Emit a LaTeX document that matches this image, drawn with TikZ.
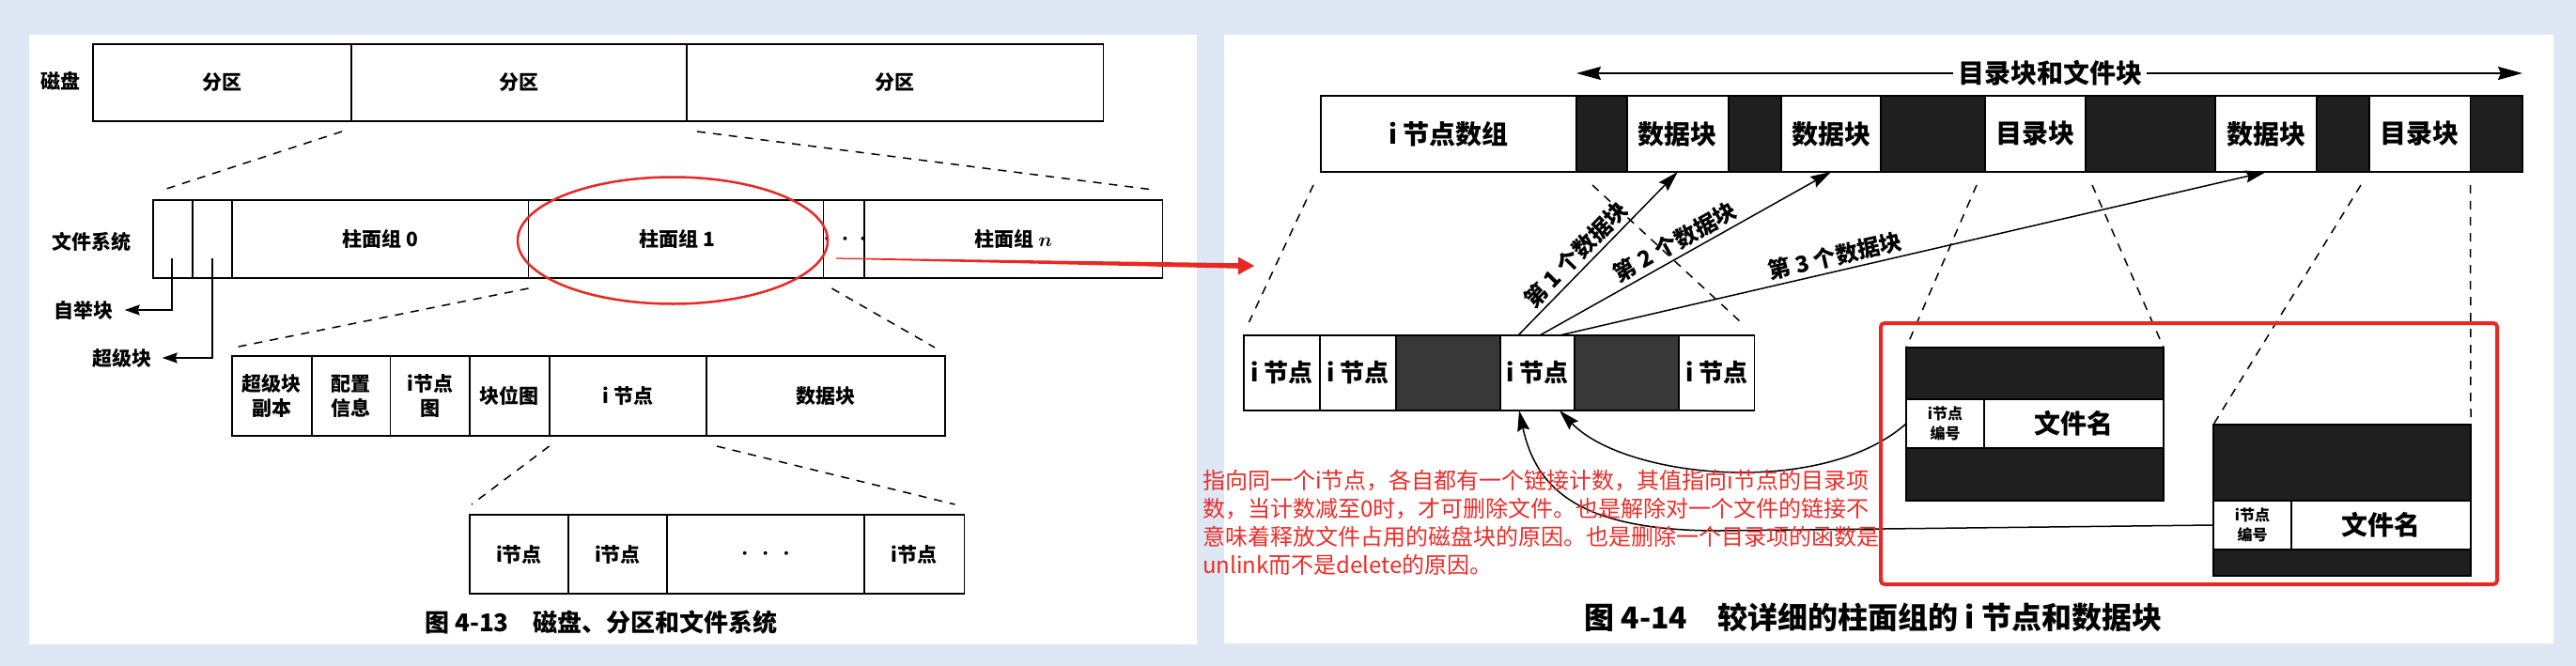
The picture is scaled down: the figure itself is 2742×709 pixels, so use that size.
\documentclass[tikz,border=0pt]{standalone}
\usepackage{fontspec}
\newfontfamily\cjk{Noto Sans CJK SC}
\usetikzlibrary{arrows.meta,calc,shapes.geometric}
\definecolor{bgc}{RGB}{221,232,244}
\definecolor{redc}{RGB}{232,40,34}
\definecolor{redt}{RGB}{236,44,40}
\newcommand{\cellnode}[7][]{%
  \pgfmathsetmacro{\myW}{#5-#3}%
  \pgfmathsetmacro{\myH}{#6-#4}%
  \node[cellbox,#1,minimum width=\myW pt,minimum height=\myH pt] (#2) at ({(#3+#5)/2},{(#4+#6)/2}) {#7};}
\begin{document}
\begin{tikzpicture}[x=1pt,y=-1pt,
  cellbox/.style={draw=black,line width=1.8pt,fill=white,inner sep=0pt,outer sep=0pt,align=center,
    font=\cjk\bfseries\fontsize{21}{26}\selectfont},
  bigcell/.style={font=\cjk\bfseries\fontsize{28}{32}\selectfont},
  midcell/.style={font=\cjk\bfseries\fontsize{26}{30}\selectfont},
  smallcell/.style={font=\cjk\bfseries\fontsize{16}{21}\selectfont},
  darkbox/.style={fill=black!88},
  darkmid/.style={fill=black!78},
  lbl/.style={inner sep=2pt,font=\cjk\bfseries\fontsize{21}{25}\selectfont},
  albl/.style={inner sep=4pt,font=\cjk\bfseries\fontsize{24}{28}\selectfont},
  dashline/.style={dash pattern=on 9pt off 8pt,line width=1.5pt},
  arrs/.style={line width=1.6pt,-{Stealth[length=16pt,width=11pt,inset=2pt]}},
  arrm/.style={line width=1.5pt,-{Stealth[length=22pt,width=13pt,inset=3pt]}},
  arrt/.style={line width=1.8pt,-{Stealth[length=26pt,width=14pt,inset=3pt]}}]
\useasboundingbox (0,0) rectangle (2742,709);
\fill[bgc] (0,0) rectangle (2742,709);
\fill[white] (31,37) rectangle (1274,686);
\fill[white] (1303,37) rectangle (2718,685);

% ---------- left panel ----------
\cellnode{d1}{99}{47}{374}{129}{分区}
\cellnode{d2}{374}{47}{731}{129}{分区}
\cellnode{d3}{731}{47}{1174.5}{129}{分区}
\node[lbl] (disk) at (64,86) {磁盘};

\cellnode{f1}{163}{213}{205}{296}{}
\cellnode{f2}{205}{213}{247}{296}{}
\cellnode{f3}{247}{213}{562.5}{296}{柱面组 0}
\cellnode{f4}{562.5}{213}{879}{296}{柱面组 1}
\cellnode{f5}{879}{213}{920}{296}{{\fontsize{28}{28}\selectfont\boldmath$\cdot\,\cdot\,\cdot$}}
\cellnode{f6}{920}{213}{1237.5}{296}{柱面组 {\boldmath$n$}}
\node[lbl] (fsl) at (97,257) {文件系统};

\node[lbl] (boot) at (89,330) {自举块};
\node[lbl] (sup) at (130,381) {超级块};
\draw[arrs] ($(f1.center)+(-1,20)$) |- ($(boot.east)+(10,0)$);
\draw[arrs] ($(f2.center)+(0,20)$) |- ($(sup.east)+(9,0)$);

\cellnode{c1}{247}{379}{331.7}{464}{超级块\\副本}
\cellnode{c2}{331.7}{379}{415.4}{464}{配置\\信息}
\cellnode{c3}{415.4}{379}{500}{464}{i节点\\图}
\cellnode{c4}{500}{379}{584.6}{464}{块位图}
\cellnode{c5}{584.6}{379}{752}{464}{i 节点}
\cellnode{c6}{752}{379}{1006}{464}{数据块}

\cellnode{n1}{500}{548}{605}{632}{i节点}
\cellnode{n2}{605}{548}{710}{632}{i节点}
\cellnode{n3}{710}{548}{920}{632}{{\fontsize{28}{28}\selectfont\boldmath$\cdot\;\cdot\;\cdot$}}
\cellnode{n4}{920}{548}{1026.5}{632}{i节点}

\node[font=\cjk\bfseries\fontsize{26}{30}\selectfont] (cap1) at (640,663) {图 4-13\quad 磁盘、分区和文件系统};

\draw[dashline] ($(d2.south west)+(-10,11)$) -- ($(f1.north west)+(11,-11)$);
\draw[dashline] ($(d2.south east)+(11,11)$) -- ($(f6.north east)+(-10,-11)$);
\draw[dashline] ($(f4.south west)+(0,11)$) -- ($(c1.north west)+(2,-9)$);
\draw[dashline] ($(f5.south west)+(9,11)$) -- ($(c6.north east)+(-11,-9)$);
\draw[dashline] ($(c5.south west)+(0,11)$) -- ($(n1.north west)+(2,-11)$);
\draw[dashline] ($(c6.south west)+(11,11)$) -- ($(n4.north east)+(-10,-11)$);

\node[ellipse,draw=redc,line width=2.5pt,minimum width=330pt,minimum height=135pt,inner sep=0pt] (ell) at (716,256) {};

% ---------- right panel ----------
\cellnode[bigcell]{t1}{1406}{102}{1678}{183}{i 节点数组}
\cellnode[darkbox]{k1}{1678}{102}{1731.6}{183}{}
\cellnode[bigcell]{t2}{1731.6}{102}{1840}{183}{数据块}
\cellnode[darkbox]{k2}{1840}{102}{1896}{183}{}
\cellnode[bigcell]{t3}{1896}{102}{2002}{183}{数据块}
\cellnode[darkbox]{k3}{2002}{102}{2112.6}{183}{}
\cellnode[bigcell]{t4}{2112.6}{102}{2220}{183}{目录块}
\cellnode[darkbox]{k4}{2220}{102}{2358}{183}{}
\cellnode[bigcell]{t5}{2358}{102}{2466}{183}{数据块}
\cellnode[darkbox]{k5}{2466}{102}{2522}{183}{}
\cellnode[bigcell]{t6}{2522}{102}{2629.5}{183}{目录块}
\cellnode[darkbox]{k6}{2629.5}{102}{2685}{183}{}

\node[font=\cjk\bfseries\fontsize{28}{32}\selectfont,inner sep=5pt] (dfl) at (2182,78) {目录块和文件块};
\draw[arrt] (dfl.west) -- ($(t1.north east)+(0,-24)$);
\draw[arrt] (dfl.east) -- ($(k6.north east)+(0,-24)$);

\cellnode[midcell]{m1}{1324}{357}{1405}{437}{i 节点}
\cellnode[midcell]{m2}{1405}{357}{1486}{437}{i 节点}
\cellnode[darkmid]{m3}{1486}{357}{1597}{437}{}
\cellnode[midcell]{m4}{1597}{357}{1676}{437}{i 节点}
\cellnode[darkmid]{m5}{1676}{357}{1787}{437}{}
\cellnode[midcell]{m6}{1787}{357}{1867.5}{437}{i 节点}

\draw[dashline] ($(t1.south west)+(-8,14)$) -- ($(m1.north west)+(5.5,-14)$);
\draw[dashline] ($(k1.south west)+(17,14)$) -- ($(m6.north east)+(-14.5,-14)$);

\draw[arrm] ($(m4.north west)+(19,0)$) -- node[pos=.43,above,sloped,albl] {第 1 个数据块} (t2.south);
\draw[arrm] ($(m4.north west)+(42,0)$) -- node[pos=.49,above,sloped,albl] {第 2 个数据块} (t3.south);
\draw[arrm] ($(m4.north west)+(63,0)$) -- node[pos=.395,above,sloped,albl] {第 3 个数据块} (t5.south);

\cellnode[darkbox]{e1t}{2029}{370}{2303}{425}{}
\cellnode[smallcell]{e1a}{2029}{425}{2112}{477}{i节点\\编号}
\cellnode[bigcell]{e1b}{2112}{425}{2303}{477}{文件名}
\cellnode[darkbox]{e1d}{2029}{477}{2303}{533}{}
\cellnode[darkbox]{e2t}{2356}{452}{2630}{533}{}
\cellnode[smallcell]{e2a}{2356}{533}{2439}{585}{i节点\\编号}
\cellnode[bigcell]{e2b}{2439}{533}{2630}{585}{文件名}
\cellnode[darkbox]{e2d}{2356}{585}{2630}{613}{}

\draw[dashline] ($(k3.south west)+(102,14)$) -- (e1t.north west);
\draw[dashline] ($(k4.south west)+(7,14)$) -- (e1t.north east);
\draw[dashline] ($(k5.south east)+(-9,14)$) -- (e2t.north west);
\draw[dashline] ($(t6.south east)+(0,14)$) -- (e2t.north east);

\draw[arrm] (e1a.west) .. controls (1940,530) and (1730,510) .. ($(m4.south west)+(63,0)$);
\draw[arrm] (e2a.west) -- (1830,565) .. controls (1680,565) and (1635,520) .. ($(m4.south west)+(20,0)$);

\node[draw=redc,line width=4pt,rounded corners=4pt,minimum width=656pt,minimum height=278pt,inner sep=0pt] (rbox) at (2330,483) {};

\node[anchor=north west,align=left,inner sep=0pt,text=redt,font=\cjk\fontsize{24}{30}\selectfont] (note) at (1280,500)
 {指向同一个i节点，各自都有一个链接计数，其值指向i节点的目录项\\数，当计数减至0时，才可删除文件。也是解除对一个文件的链接不\\意味着释放文件占用的磁盘块的原因。也是删除一个目录项的函数是\\unlink而不是delete的原因。};

\node[anchor=west,inner sep=0pt,font=\cjk\bfseries\fontsize{32}{36}\selectfont] (cap2) at (1686,657) {图 4-14\quad 较详细的柱面组的 i 节点和数据块};

% red pointer arrow
\coordinate (rs) at (890,275);
\coordinate (re) at (1335,283);
\fill[redc] ($(rs)+(0,-0.6)$) -- ($(re)+(-17,-2.8)$) -- ($(re)+(-17,-9.5)$) -- (re) -- ($(re)+(-17,9.5)$) -- ($(re)+(-17,2.8)$) -- ($(rs)+(0,0.6)$) -- cycle;
\end{tikzpicture}
\end{document}
